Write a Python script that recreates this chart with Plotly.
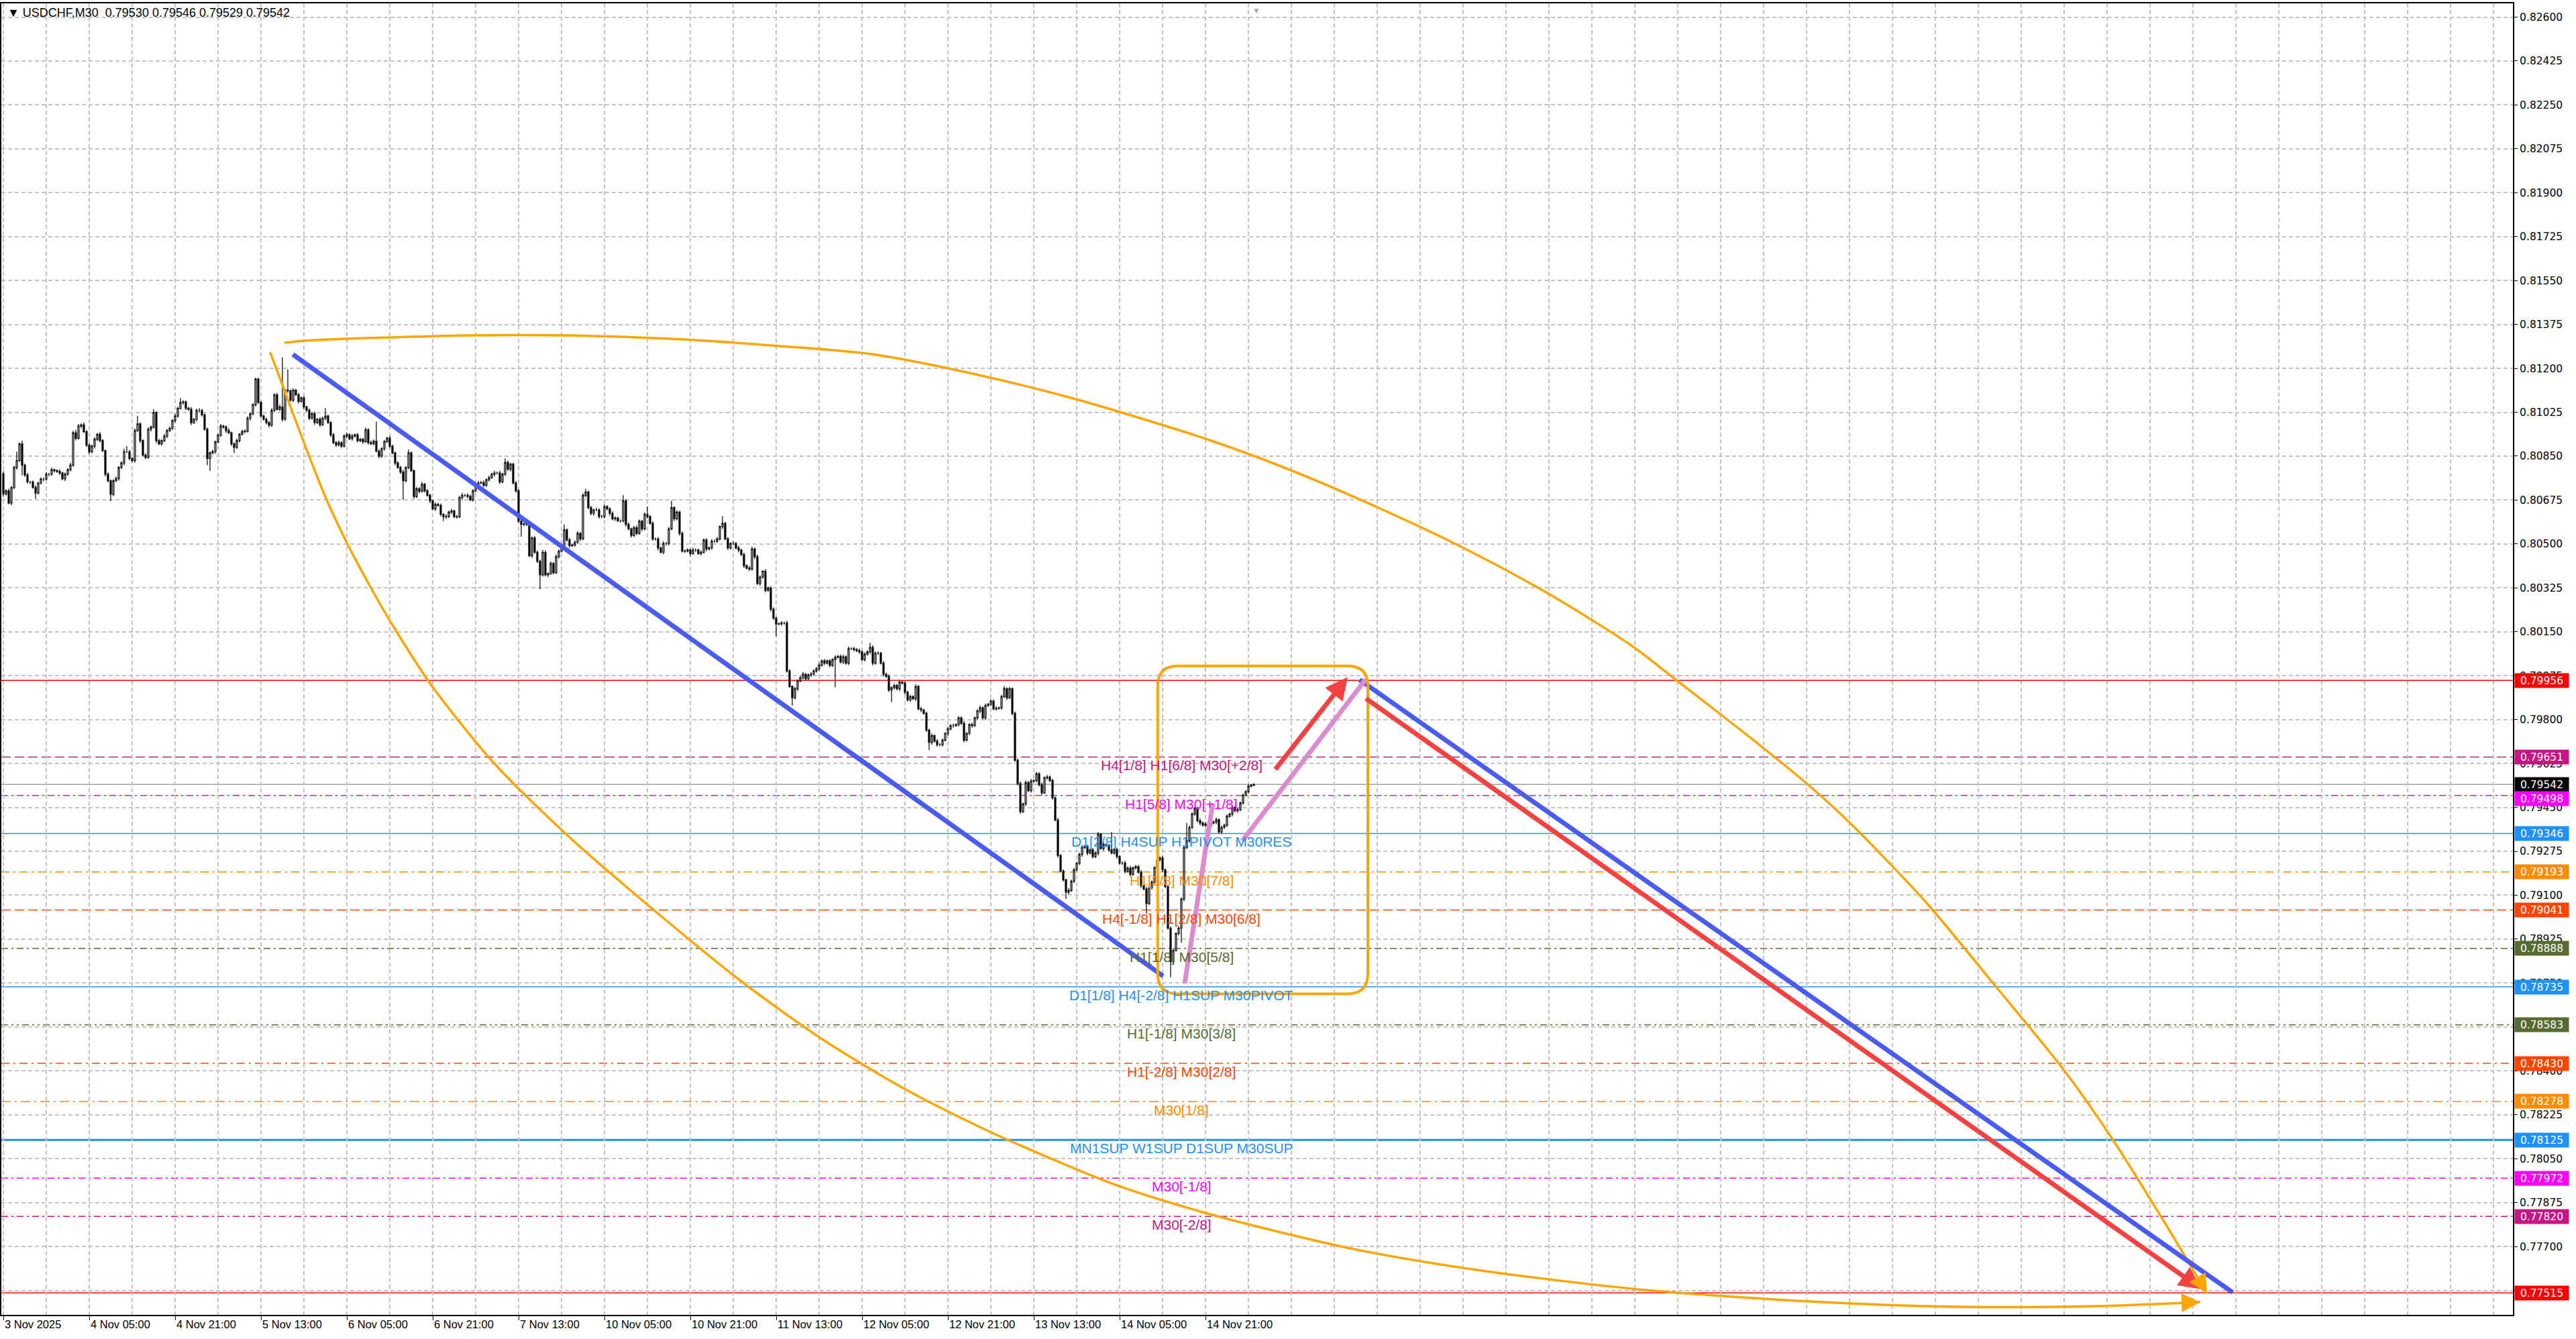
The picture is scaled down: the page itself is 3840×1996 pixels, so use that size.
import plotly.graph_objects as go

# ---- candles (M30 bars, values in points above 0.78000) ----
price_base = 0.78
first_open = 2780
closes = [
    2700, 2712, 2663, 2725, 2805, 2832, 2899, 2814, 2775, 2747, 2747, 2725, 2703, 2743, 2759, 2759, 2778, 2778, 2796, 2792,
    2789, 2783, 2760, 2778, 2796, 2814, 2943, 2921, 2970, 2975, 2948, 2894, 2867, 2890, 2917, 2937, 2912, 2872, 2778, 2752,
    2698, 2752, 2761, 2805, 2823, 2868, 2868, 2841, 2832, 2952, 2979, 2912, 2854, 2845, 2957, 2966, 3024, 2912, 2899, 2912,
    2930, 2952, 2961, 2992, 3010, 3041, 3064, 3066, 3041, 3037, 2983, 2997, 3032, 3032, 3015, 2957, 2841, 2863, 2868, 2907,
    2934, 2970, 2966, 2952, 2943, 2899, 2885, 2912, 2937, 2948, 2950, 3001, 3019, 3055, 3158, 3064, 3010, 2997, 2984, 2973,
    3033, 3095, 3037, 3046, 2997, 3113, 3110, 3073, 3113, 3095, 3068, 3082, 3046, 3033, 3001, 3019, 2984, 2997, 2975, 3001,
    3010, 2984, 2935, 2904, 2895, 2904, 2890, 2930, 2935, 2920, 2930, 2935, 2912, 2917, 2908, 2955, 2904, 2900, 2910, 2870,
    2850, 2880, 2908, 2922, 2890, 2863, 2823, 2805, 2787, 2752, 2805, 2863, 2792, 2689, 2720, 2710, 2738, 2712, 2694, 2672,
    2640, 2658, 2654, 2618, 2608, 2609, 2627, 2632, 2609, 2608, 2685, 2694, 2694, 2690, 2676, 2712, 2734, 2743, 2745, 2734,
    2756, 2765, 2778, 2783, 2783, 2747, 2778, 2825, 2798, 2818, 2743, 2712, 2591, 2578, 2580, 2578, 2453, 2524, 2467, 2431,
    2377, 2467, 2377, 2382, 2422, 2386, 2449, 2471, 2493, 2556, 2516, 2493, 2496, 2507, 2542, 2520, 2694, 2707, 2645, 2622,
    2636, 2636, 2609, 2609, 2649, 2640, 2622, 2600, 2603, 2592, 2592, 2672, 2578, 2560, 2534, 2565, 2542, 2591, 2560, 2618,
    2609, 2582, 2520, 2520, 2484, 2467, 2502, 2502, 2560, 2645, 2600, 2627, 2542, 2471, 2472, 2476, 2462, 2476, 2476, 2462,
    2467, 2516, 2480, 2485, 2511, 2511, 2520, 2569, 2582, 2520, 2484, 2502, 2502, 2484, 2476, 2458, 2413, 2404, 2400, 2480,
    2449, 2342, 2368, 2391, 2315, 2324, 2240, 2204, 2181, 2182, 2185, 2185, 1994, 1932, 1887, 1923, 1954, 1967, 1981, 1963,
    1978, 1981, 1994, 2003, 2017, 2034, 2025, 2034, 2016, 2039, 2048, 2052, 2030, 2050, 2025, 2083, 2083, 2079, 2075, 2070,
    2039, 2061, 2070, 2088, 2025, 2065, 2065, 2025, 1981, 1972, 1918, 1927, 1936, 1923, 1950, 1945, 1909, 1878, 1892, 1883,
    1932, 1843, 1838, 1825, 1758, 1709, 1736, 1714, 1700, 1700, 1718, 1745, 1763, 1776, 1776, 1780, 1807, 1785, 1718, 1745,
    1780, 1776, 1807, 1834, 1847, 1807, 1856, 1861, 1874, 1843, 1845, 1847, 1892, 1923, 1887, 1923, 1825, 1638, 1545, 1433,
    1464, 1549, 1517, 1555, 1557, 1584, 1540, 1508, 1568, 1571, 1557, 1488, 1400, 1258, 1196, 1161, 1112, 1119, 1156, 1201,
    1227, 1263, 1290, 1294, 1268, 1281, 1254, 1268, 1343, 1286, 1303, 1298, 1281, 1268, 1282, 1254, 1228, 1228, 1196, 1208,
    1183, 1209, 1214, 1192, 1138, 1125, 1067, 1130, 1152, 1210, 1241, 1249, 1201, 1134, 969, 835, 880, 947, 969, 1085,
    1290, 1317, 1370, 1424, 1446, 1397, 1388, 1379, 1384, 1375, 1388, 1392, 1401, 1352, 1370, 1379, 1415, 1424, 1450, 1437,
    1441, 1468, 1499, 1513, 1535, 1538, 1542,
]
up_wick = [
    10, 6, 8, 5, 7, 36, 5, 13, 6, 8, 5, 6, 9, 5, 7, 5, 8, 6, 9, 4,
    6, 8, 5, 7, 6, 9, 8, 12, 8, 6, 10, 5, 7, 6, 8, 5, 9, 6, 5, 7,
    5, 6, 8, 5, 7, 12, 22, 6, 5, 8, 31, 6, 5, 7, 8, 6, 13, 5, 7, 6,
    8, 6, 7, 5, 9, 6, 18, 7, 5, 6, 8, 5, 7, 9, 6, 5, 7, 6, 8, 5,
    6, 8, 5, 7, 9, 5, 6, 8, 5, 7, 6, 8, 5, 7, 4, 4, 6, 5, 7, 6,
    8, 5, 7, 9, 198, 6, 83, 6, 8, 5, 7, 6, 8, 5, 7, 6, 9, 5, 8, 6,
    32, 6, 5, 7, 6, 8, 5, 7, 9, 6, 8, 5, 7, 6, 5, 9, 6, 8, 6, 78,
    8, 6, 7, 5, 9, 6, 5, 7, 6, 8, 5, 14, 6, 5, 8, 6, 9, 5, 7, 6,
    5, 8, 6, 7, 5, 9, 6, 8, 5, 7, 6, 9, 5, 8, 6, 7, 5, 9, 6, 8,
    5, 7, 6, 8, 5, 9, 6, 16, 7, 6, 5, 8, 6, 9, 5, 7, 5, 6, 8, 7,
    6, 9, 7, 5, 8, 6, 9, 7, 6, 22, 6, 8, 5, 7, 9, 6, 8, 13, 6, 7,
    5, 8, 6, 7, 9, 5, 6, 8, 7, 6, 5, 22, 6, 8, 5, 7, 9, 6, 5, 8,
    31, 6, 8, 5, 7, 6, 9, 5, 8, 28, 6, 7, 5, 8, 6, 7, 5, 9, 6, 5,
    8, 6, 7, 5, 9, 6, 8, 5, 29, 6, 7, 5, 8, 6, 9, 5, 7, 6, 8, 9,
    6, 8, 7, 5, 9, 6, 8, 7, 6, 5, 8, 6, 9, 7, 5, 8, 6, 7, 9, 5,
    6, 8, 5, 7, 9, 6, 8, 5, 7, 6, 8, 5, 7, 9, 6, 8, 5, 7, 6, 8,
    5, 7, 6, 18, 8, 6, 7, 5, 9, 6, 8, 5, 7, 6, 9, 5, 8, 6, 7, 5,
    9, 6, 8, 5, 7, 6, 9, 5, 8, 6, 7, 5, 9, 6, 8, 5, 7, 6, 9, 5,
    6, 8, 5, 7, 9, 6, 8, 5, 7, 6, 8, 5, 7, 11, 6, 8, 5, 7, 6, 8,
    5, 9, 6, 8, 5, 7, 6, 9, 5, 8, 6, 7, 5, 8, 6, 7, 5, 9, 6, 8,
    5, 7, 9, 6, 8, 5, 7, 6, 9, 5, 8, 6, 7, 71, 6, 8, 5, 7, 9, 6,
    8, 5, 7, 6, 9, 5, 8, 6, 7, 5, 9, 6, 8, 5, 7, 6, 8, 5, 7, 6,
    9, 71, 8, 6, 7, 5, 9, 6, 8, 5, 7, 6, 9, 5, 8, 6, 7, 5, 9, 6,
    8, 5, 7, 6, 8, 5, 4,
]
down_wick = [
    10, 7, 5, 8, 6, 9, 5, 40, 7, 6, 8, 5, 23, 7, 6, 9, 5, 8, 6, 7,
    5, 8, 6, 9, 5, 7, 6, 8, 5, 9, 6, 7, 8, 5, 9, 6, 7, 5, 8, 6,
    27, 7, 5, 8, 6, 9, 5, 7, 6, 8, 5, 9, 6, 7, 5, 8, 6, 9, 5, 7,
    6, 8, 5, 7, 9, 6, 5, 8, 7, 6, 9, 5, 8, 6, 7, 5, 27, 49, 6, 8,
    5, 7, 6, 9, 5, 8, 23, 6, 7, 5, 8, 6, 9, 5, 7, 6, 8, 5, 7, 9,
    6, 8, 5, 7, 9, 6, 8, 5, 7, 6, 9, 5, 8, 6, 7, 5, 9, 6, 8, 5,
    7, 6, 9, 5, 8, 6, 7, 5, 9, 6, 8, 5, 7, 6, 9, 5, 8, 6, 7, 5,
    9, 6, 8, 5, 7, 6, 9, 5, 8, 76, 6, 7, 5, 9, 6, 8, 5, 7, 6, 9,
    5, 8, 6, 7, 17, 9, 5, 8, 6, 7, 5, 9, 6, 8, 5, 7, 6, 9, 5, 8,
    6, 7, 5, 9, 6, 8, 5, 7, 6, 9, 5, 8, 6, 49, 7, 6, 5, 8, 6, 7,
    58, 7, 6, 9, 5, 8, 6, 7, 5, 9, 6, 8, 5, 7, 6, 9, 5, 8, 6, 7,
    9, 5, 8, 6, 7, 5, 9, 6, 8, 5, 7, 6, 9, 5, 8, 6, 7, 5, 9, 6,
    8, 5, 7, 6, 9, 5, 8, 6, 7, 5, 9, 6, 8, 5, 7, 6, 9, 5, 8, 6,
    7, 5, 9, 6, 8, 5, 7, 6, 9, 5, 8, 6, 7, 5, 9, 6, 8, 5, 7, 6,
    9, 5, 8, 6, 7, 5, 9, 6, 49, 5, 8, 6, 7, 5, 31, 6, 8, 5, 7, 9,
    6, 8, 5, 7, 9, 6, 8, 5, 7, 6, 110, 5, 7, 9, 6, 8, 5, 7, 6, 8,
    5, 7, 6, 8, 9, 6, 7, 5, 9, 6, 8, 48, 7, 6, 9, 5, 8, 6, 7, 5,
    9, 6, 8, 5, 7, 31, 9, 5, 8, 6, 7, 5, 9, 6, 8, 5, 7, 6, 9, 5,
    6, 8, 5, 7, 9, 6, 8, 5, 7, 6, 8, 5, 7, 6, 9, 5, 8, 6, 7, 9,
    5, 9, 6, 8, 5, 7, 6, 9, 5, 8, 6, 7, 5, 8, 6, 7, 27, 9, 6, 8,
    5, 7, 9, 6, 8, 5, 7, 6, 9, 5, 8, 6, 7, 5, 6, 8, 5, 7, 9, 6,
    8, 5, 7, 6, 9, 5, 40, 6, 7, 5, 9, 6, 8, 5, 7, 62, 8, 5, 7, 58,
    9, 6, 8, 5, 7, 6, 9, 5, 8, 6, 7, 5, 9, 6, 8, 5, 7, 6, 9, 5,
    8, 6, 7, 5, 8, 5, 3,
]

# ---- x axis labels (bar index of each label) ----
time_labels = ["3 Nov 2025", "4 Nov 05:00", "4 Nov 21:00", "5 Nov 13:00", "6 Nov 05:00",
               "6 Nov 21:00", "7 Nov 13:00", "10 Nov 05:00", "10 Nov 21:00", "11 Nov 13:00",
               "12 Nov 05:00", "12 Nov 21:00", "13 Nov 13:00", "14 Nov 05:00", "14 Nov 21:00"]
label_bars = [0, 32, 64, 96, 128, 160, 192, 224, 256, 288, 320, 352, 384, 416, 448]
grid_bars = list(range(0, 944, 16))

price_ticks = [0.77525, 0.77700, 0.77875, 0.78050, 0.78225, 0.78400, 0.78575, 0.78750,
               0.78925, 0.79100, 0.79275, 0.79450, 0.79625, 0.79800, 0.79975, 0.80150,
               0.80325, 0.80500, 0.80675, 0.80850, 0.81025, 0.81200, 0.81375, 0.81550,
               0.81725, 0.81900, 0.82075, 0.82250, 0.82425, 0.82600]

# ---- Murrey-style levels ----
level_prices = [0.79956, 0.79651, 0.79542, 0.79498, 0.79346, 0.79193, 0.79041, 0.78888,
                0.78735, 0.78583, 0.78430, 0.78278, 0.78125, 0.77972, 0.77820, 0.77515]
level_colors = ["#ff0000", "#c71585", "#000000", "#ff00ff", "#1e90ff", "#ff8c00", "#ff4500", "#556b2f",
                "#1e90ff", "#556b2f", "#ff4500", "#ff8c00", "#1e90ff", "#ff00ff", "#c71585", "#ff0000"]
level_dash = ["solid", "14px,6px", "solid", "10px,5px,3px,5px", "solid", "12px,6px,3px,6px",
              "14px,6px", "10px,5px,3px,5px", "solid", "10px,5px,3px,5px,3px,5px", "12px,6px,3px,6px",
              "14px,6px,3px,6px", "solid", "10px,5px,3px,5px", "10px,5px,3px,5px", "solid"]
level_widths = [1.5, 1.5, 1.5, 1.5, 1.5, 1.5, 1.5, 1.5, 1.5, 1.5, 1.5, 1.5, 3, 1.5, 1.5, 1.5]
level_texts = ["", "H4[1/8] H1[6/8] M30[+2/8]", "", "H1[5/8] M30[+1/8]",
               "D1[2/8] H4SUP H1PIVOT M30RES", "H1[3/8] M30[7/8]", "H4[-1/8] H1[2/8] M30[6/8]",
               "H1[1/8] M30[5/8]", "D1[1/8] H4[-2/8] H1SUP M30PIVOT", "H1[-1/8] M30[3/8]",
               "H1[-2/8] M30[2/8]", "M30[1/8]", "MN1SUP W1SUP D1SUP M30SUP", "M30[-1/8]", "M30[-2/8]", ""]
# the scale pushes a price box down when it would sit on the one above it
box_nudge = [0, 0, 0, -5, 0, 0, 0, 0, 0, 0, 0, 0, 0, 0, 0, 0]
level_text_bar = 439

# ---- drawn objects (bar, price) ----
blue_line_1 = ([107.9, 432.2], [0.812556, 0.787778])
blue_line_2 = ([505.4, 830.8], [0.799588, 0.775166])
red_arrow_long = ([507.4, 819.2], [0.798874, 0.775300])
red_arrow_short = ([473.75, 501.0], [0.795978, 0.799695])
pink_line_1 = ([440.25, 450.7], [0.787484, 0.794668])
pink_line_2 = ([461.7, 507.7], [0.793171, 0.799605])
box_bars = [430.2, 508.5]
box_prices = [0.787072, 0.800139]

arc_upper_bars = [104.75, 112.0, 128.0, 143.75, 173.75, 211.25, 248.75, 286.25, 323.75, 361.25,
                  398.75, 448.75, 479.25, 512.5, 543.25, 576.25, 607.0, 622.25, 652.75, 673.25,
                  688.5, 716.5, 742.0, 767.5, 785.5, 806.0, 821.25]
arc_upper_prices = [0.813019, 0.813099, 0.813179, 0.813233, 0.813313, 0.813313, 0.813179, 0.812912,
                    0.812564, 0.811789, 0.810799, 0.809168, 0.807965, 0.806441, 0.804890, 0.802992,
                    0.800933, 0.799676, 0.797136, 0.795345, 0.793848, 0.790719, 0.787430, 0.784088,
                    0.781361, 0.777858, 0.775131]
arc_lower_bars = [99.43, 103.0, 112.5, 120.25, 128.0, 137.5, 146.75, 159.25, 182.5, 211.25, 243.75,
                  273.75, 304.75, 336.25, 366.0, 386.25, 414.25, 445.25, 474.0, 505.75, 550.75,
                  612.0, 678.25, 729.25, 780.25, 818.75]
arc_lower_prices = [0.812644, 0.811628, 0.808901, 0.806816, 0.805051, 0.803152, 0.801468, 0.799409,
                    0.796307, 0.793286, 0.790291, 0.787671, 0.785291, 0.783259, 0.781655, 0.780693,
                    0.779463, 0.778420, 0.777618, 0.776842, 0.776040, 0.775265, 0.774783, 0.774596,
                    0.774623, 0.774783]

# ---- build OHLC ----
n = min(len(closes), len(up_wick), len(down_wick))
opens = [first_open] + closes[:n - 1]
o = [price_base + v / 1e5 for v in opens[:n]]
c = [price_base + v / 1e5 for v in closes[:n]]
h = [price_base + (max(a, b) + u) / 1e5 for a, b, u in zip(opens, closes, up_wick)]
l = [price_base + (min(a, b) - d) / 1e5 for a, b, d in zip(opens, closes, down_wick)]
bars = list(range(n))

BLUE = "#4a5cf0"
RED = "#f44242"
ORANGE = "#ffa500"
PINK = "#dc8bd0"
GRID = "#c4c4c4"

fig = go.Figure()
fig.add_trace(go.Candlestick(
    x=bars, open=o, high=h, low=l, close=c,
    increasing=dict(line=dict(color="black", width=1.2), fillcolor="white"),
    decreasing=dict(line=dict(color="black", width=1.2), fillcolor="black"),
    whiskerwidth=0, hoverinfo="skip", showlegend=False))

for xs, ys in [(arc_upper_bars, arc_upper_prices), (arc_lower_bars, arc_lower_prices)]:
    fig.add_trace(go.Scatter(x=xs, y=ys, mode="lines",
                             line=dict(color=ORANGE, width=3.5, shape="spline", smoothing=0.8),
                             hoverinfo="skip", showlegend=False))
for (xs, ys), col in [(blue_line_1, BLUE), (blue_line_2, BLUE), (pink_line_1, PINK), (pink_line_2, PINK)]:
    fig.add_trace(go.Scatter(x=xs, y=ys, mode="lines", line=dict(color=col, width=7),
                             hoverinfo="skip", showlegend=False))

shapes = []
for p, col, d, w in zip(level_prices, level_colors, level_dash, level_widths):
    lc = "#a0a0a0" if col == "#000000" else col
    shapes.append(dict(type="line", xref="paper", x0=0, x1=1, yref="y", y0=p, y1=p,
                       line=dict(color=lc, width=w, dash=d), layer="below"))

# rounded box
x0, x1 = box_bars
y0, y1 = box_prices
rx, ry = 7.5, 0.0008
box_path = (f"M {x0 + rx},{y1} L {x1 - rx},{y1} Q {x1},{y1} {x1},{y1 - ry} "
            f"L {x1},{y0 + ry} Q {x1},{y0} {x1 - rx},{y0} L {x0 + rx},{y0} "
            f"Q {x0},{y0} {x0},{y0 + ry} L {x0},{y1 - ry} Q {x0},{y1} {x0 + rx},{y1} Z")
shapes.append(dict(type="path", xref="x", yref="y", path=box_path, line=dict(color=ORANGE, width=4)))

annotations = []
# x labels
for b, t in zip(label_bars, time_labels):
    annotations.append(dict(x=b, xref="x", y=0, yref="paper", text=t, showarrow=False,
                            xanchor="left", yanchor="top", xshift=0, yshift=-3,
                            font=dict(family="Liberation Sans, Arial", size=16.5, color="black")))
# level captions
for p, col, t in zip(level_prices, level_colors, level_texts):
    if t:
        annotations.append(dict(x=level_text_bar, xref="x", y=p, yref="y", text=t, showarrow=False,
                                xanchor="center", yanchor="top", yshift=1,
                                font=dict(family="Liberation Sans, Arial", size=21, color=col)))
# price boxes on the scale
for p, col, nd in zip(level_prices, level_colors, box_nudge):
    annotations.append(dict(x=1.0006, xref="paper", y=p, yref="y", yshift=nd, text=f"{p:.5f}", showarrow=False,
                            xanchor="left", yanchor="middle", bgcolor=col, width=76, height=17, borderpad=2,
                            font=dict(family="DejaVu Sans, Verdana", size=15.5, color="white")))
# arrows
for xs, ys in [red_arrow_long, red_arrow_short]:
    annotations.append(dict(x=xs[1], y=ys[1], xref="x", yref="y", ax=xs[0], ay=ys[0], axref="x", ayref="y",
                            text="", showarrow=True, arrowhead=2, arrowsize=0.95, arrowwidth=7,
                            arrowcolor=RED, standoff=0))
annotations.append(dict(x=arc_upper_bars[-1], y=arc_upper_prices[-1], xref="x", yref="y", ax=-13, ay=-22,
                        text="", showarrow=True, arrowhead=2, arrowsize=1.6, arrowwidth=3.5,
                        arrowcolor=ORANGE, standoff=0))
annotations.append(dict(x=arc_lower_bars[-1], y=arc_lower_prices[-1], xref="x", yref="y", ax=-26, ay=1,
                        text="", showarrow=True, arrowhead=2, arrowsize=1.6, arrowwidth=3.5,
                        arrowcolor=ORANGE, standoff=0))
# header
annotations.append(dict(x=0.002, xref="paper", y=1, yref="paper", xanchor="left", yanchor="top", yshift=-2,
                        text="\u25bc USDCHF,M30\u00a0\u00a00.79530 0.79546 0.79529 0.79542", showarrow=False,
                        font=dict(family="Liberation Sans, Arial", size=18, color="black")))
annotations.append(dict(x=467, xref="x", y=1, yref="paper", yanchor="top", text="\u25bc", showarrow=False,
                        font=dict(size=12, color="#a8a8a8")))

fig.update_layout(
    width=3840, height=1996,
    margin=dict(l=2, r=94, t=5, b=36, autoexpand=False),
    paper_bgcolor="white", plot_bgcolor="white",
    shapes=shapes, annotations=annotations, showlegend=False,
    xaxis=dict(range=[-0.75, 935.25], rangeslider=dict(visible=False),
               tickvals=label_bars, ticktext=[""] * len(label_bars), ticks="outside", ticklen=6,
               tickcolor="black", showgrid=True, gridcolor=GRID, griddash="6px,4px", gridwidth=1.5,
               minor=dict(tickvals=grid_bars, showgrid=True, gridcolor=GRID, griddash="6px,4px",
                          gridwidth=1.5, ticklen=0),
               showline=True, linecolor="black", linewidth=2, mirror=True, zeroline=False, automargin=False),
    yaxis=dict(range=[0.774275, 0.826548], side="right", tickvals=price_ticks,
               ticktext=[f"{v:.5f}" for v in price_ticks], ticks="outside", ticklen=5, tickcolor="black",
               tickfont=dict(family="DejaVu Sans, Verdana", size=15.5, color="black"),
               showgrid=True, gridcolor=GRID, griddash="6px,4px", gridwidth=1.5,
               showline=True, linecolor="black", linewidth=2, mirror=True, zeroline=False, automargin=False),
)

# the page body has a default 8px margin; drop it so the figure fills the window exactly
fig.write_html("out.html", config={"displayModeBar": False},
               post_script="document.body.style.margin='0';")
